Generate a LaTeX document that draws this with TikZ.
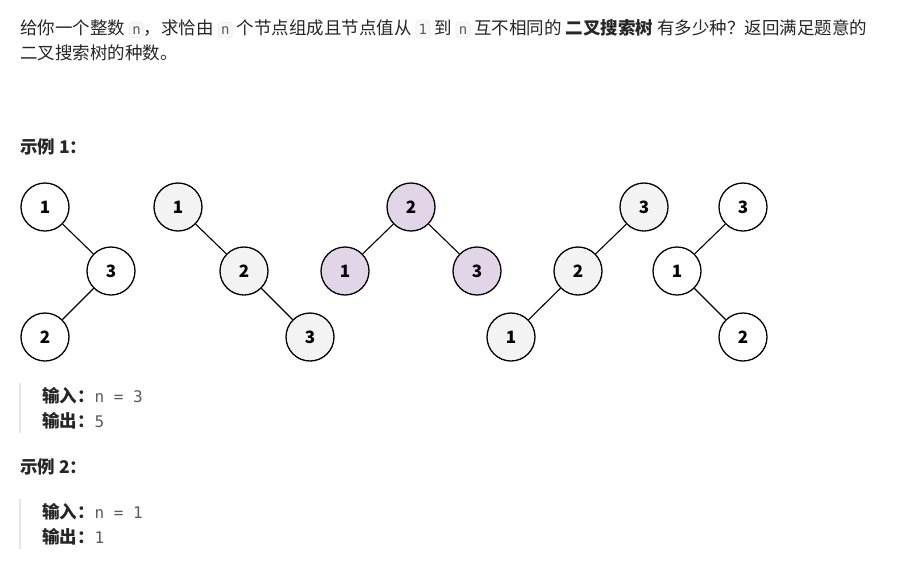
\documentclass[tikz,border=0pt]{standalone}
\usepackage{fontspec}
\setmainfont{Noto Sans CJK SC}
\newfontfamily\cjk{Noto Sans CJK SC}
\setmonofont{DejaVu Sans Mono}
\definecolor{codebg}{HTML}{F7F7F7}
\definecolor{codefr}{HTML}{E6E6E6}
\definecolor{greyfill}{HTML}{F3F3F3}
\definecolor{purp}{HTML}{E1D5E7}
\definecolor{txt}{HTML}{262626}
\definecolor{codetxt}{HTML}{5C5C5C}
\newcommand{\inl}[1]{\tikz[baseline=(c.base)]\node[draw=codefr,fill=codebg,rounded corners=4pt,inner xsep=3pt,inner ysep=4pt,font=\ttfamily\fontsize{14}{14}\selectfont,text=codetxt](c){#1};}
\begin{document}
\begin{tikzpicture}[x=1pt,y=-1pt,
  tn/.style={circle,draw=black,line width=1.3pt,minimum size=48pt,inner sep=0pt,font=\bfseries\fontsize{17}{17}\selectfont,fill=white},
  tg/.style={tn,fill=greyfill},
  tp/.style={tn,fill=purp},
  ed/.style={line width=1.1pt},
  tx/.style={anchor=base west,inner sep=0pt,text=txt,font=\fontsize{17.5}{20}\selectfont},
  bar/.style={draw=codefr,line width=2.5pt}]
\fill[white] (0,0) rectangle (900,587);
\node[tx] (l1) at (20,34) {给你一个整数 \inl{n}，求恰由 \inl{n} 个节点组成且节点值从 \inl{1} 到 \inl{n} 互不相同的 \textbf{二叉搜索树} 有多少种？返回满足题意的};
\node[tx] (l2) at (20,59) {二叉搜索树的种数。};
\node[tx,font=\bfseries\fontsize{17.5}{20}\selectfont] (h1) at (20,153) {示例 1：};
% tree 1
\node[tn] (a1) at (45,207) {1};
\node[tn] (a3) at (111,271) {3};
\node[tn] (a2) at (45,337) {2};
\draw[ed] (a1)--(a3) (a3)--(a2);
% tree 2
\node[tg] (b1) at (178,207) {1};
\node[tg] (b2) at (244,271) {2};
\node[tg] (b3) at (310,337) {3};
\draw[ed] (b1)--(b2) (b2)--(b3);
% tree 3
\node[tp] (c2) at (411,207) {2};
\node[tp] (c1) at (345,271) {1};
\node[tp] (c3) at (477,271) {3};
\draw[ed] (c2)--(c1) (c2)--(c3);
% tree 4
\node[tg] (d3) at (644,207) {3};
\node[tg] (d2) at (578,271) {2};
\node[tg] (d1) at (511,337) {1};
\draw[ed] (d3)--(d2) (d2)--(d1);
% tree 5
\node[tn] (e3) at (743,207) {3};
\node[tn] (e1) at (677,271) {1};
\node[tn] (e2) at (743,337) {2};
\draw[ed] (e3)--(e1) (e1)--(e2);
% example 1 io
\coordinate (q1a) at (20,383); \coordinate (q1b) at (20,433);
\draw[bar] (q1a)--(q1b);
\node[tx] (i1) at (42,402) {\textbf{输入：}\textcolor{codetxt}{\ttfamily\fontsize{16}{16}\selectfont n = 3}};
\node[tx] (o1) at (42,427) {\textbf{输出：}\textcolor{codetxt}{\ttfamily\fontsize{16}{16}\selectfont 5}};
\node[tx,font=\bfseries\fontsize{17.5}{20}\selectfont] (h2) at (20,473) {示例 2：};
\coordinate (q2a) at (20,499); \coordinate (q2b) at (20,549);
\draw[bar] (q2a)--(q2b);
\node[tx] (i2) at (42,518) {\textbf{输入：}\textcolor{codetxt}{\ttfamily\fontsize{16}{16}\selectfont n = 1}};
\node[tx] (o2) at (42,543) {\textbf{输出：}\textcolor{codetxt}{\ttfamily\fontsize{16}{16}\selectfont 1}};
\end{tikzpicture}
\end{document}
